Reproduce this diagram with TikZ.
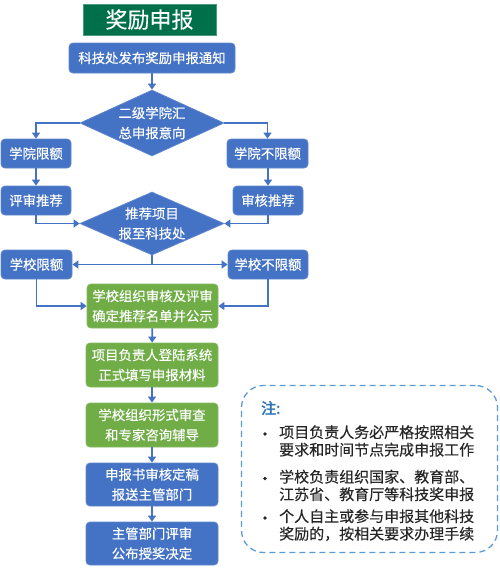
\documentclass[tikz,border=0pt]{standalone}
\usepackage{fontspec}
\setmainfont{Noto Sans CJK SC}[FakeBold=0.3]
\newfontfamily\headfont{Noto Sans CJK SC}[FakeBold=2.5]
\usetikzlibrary{shapes.geometric,arrows.meta}
\definecolor{bluebox}{HTML}{4472C4}
\definecolor{greenbox}{HTML}{70AD47}
\definecolor{titlegreen}{HTML}{00704A}
\definecolor{dashblue}{HTML}{5B9BD5}
\definecolor{notetext}{HTML}{262626}
\definecolor{notehead}{HTML}{2E75B6}
\tikzset{
  x=1pt, y=-1pt,
  boxtext/.style={font=\fontsize{13.4pt}{20pt}\selectfont, text=white, align=center, inner sep=0pt},
  bluestep/.style={boxtext, rectangle, rounded corners=4pt, fill=bluebox, draw=bluebox!85!white, line width=0.8pt},
  greenstep/.style={boxtext, rectangle, rounded corners=4pt, fill=greenbox, draw=greenbox!85!white, line width=0.8pt},
  decide/.style={boxtext, diamond, fill=bluebox, draw=bluebox!85!white, line width=0.8pt, aspect=2.2},
  flow/.style={draw=bluebox, line width=1.8pt, -{Triangle[length=6pt,width=8pt]}},
  flowplain/.style={draw=bluebox, line width=1.8pt},
  notebody/.style={font=\fontsize{15pt}{17.5pt}\selectfont, text=notetext, align=left, anchor=north west, inner sep=0pt, text width=200pt},
  bulletdot/.style={circle, fill=notetext, inner sep=0pt, minimum size=3.6pt},
}
\begin{document}
\begin{tikzpicture}
\useasboundingbox (0,0) rectangle (500,570);
% title
\node[fill=titlegreen, draw=titlegreen!70!white, line width=0.8pt, minimum width=133pt, minimum height=31pt, inner sep=0pt, text=white, font=\fontsize{22pt}{24pt}\selectfont] (title) at (149.5,19.5) {奖励申报};
% main column
\node[bluestep, minimum width=166pt, minimum height=30pt] (notice) at (152,58) {科技处发布奖励申报通知};
\node[decide, minimum width=144pt, minimum height=66pt] (d1) at (152,123) {二级学院汇\\总申报意向};
\node[bluestep, minimum width=70pt, minimum height=29pt] (xyxe) at (36,153.5) {学院限额};
\node[bluestep, minimum width=81pt, minimum height=29pt] (xybxe) at (267.5,153.5) {学院不限额};
\node[bluestep, minimum width=70pt, minimum height=29pt] (pstj) at (36,200.5) {评审推荐};
\node[bluestep, minimum width=70pt, minimum height=29pt] (shtj) at (268,200.5) {审核推荐};
\node[decide, minimum width=144pt, minimum height=63pt] (d2) at (152,223.5) {推荐项目\\报至科技处};
\node[bluestep, minimum width=71pt, minimum height=29pt] (xxxe) at (36.5,264.5) {学校限额};
\node[bluestep, minimum width=80pt, minimum height=29pt] (xxbxe) at (268,264.5) {学校不限额};
\node[greenstep, minimum width=131pt, minimum height=44pt] (g1) at (152.5,306) {学校组织审核及评审\\确定推荐名单并公示};
\node[greenstep, minimum width=132pt, minimum height=44pt] (g2) at (152,365) {项目负责人登陆系统\\正式填写申报材料};
\node[greenstep, minimum width=132pt, minimum height=44pt] (g3) at (152,425) {学校组织形式审查\\和专家咨询辅导};
\node[bluestep, minimum width=132pt, minimum height=43pt] (b4) at (152,484.5) {申报书审核定稿\\报送主管部门};
\node[bluestep, minimum width=132pt, minimum height=43pt] (b5) at (152,543.5) {主管部门评审\\公布授奖决定};
% connectors
\draw[flow] (notice) -- (d1);
\draw[flow] (d1.west) -| (xyxe.north);
\draw[flow] (d1.east) -| (xybxe.north);
\draw[flow] (xyxe) -- (pstj);
\draw[flow] (xybxe.south -| shtj.north) -- (shtj.north);
\draw[flow] (pstj.south) |- (d2.west);
\draw[flow] (shtj.south) |- (d2.east);
\coordinate (split) at (152,264.5);
\draw[flowplain] (d2.south) -- (split);
\draw[flow] (split) -- (xxxe.east);
\draw[flow] (split) -- (xxbxe.west);
\draw[flow] (xxxe.south) |- (g1.west);
\draw[flow] (xxbxe.south) |- (g1.east);
\draw[flow] (g1) -- (g2);
\draw[flow] (g2) -- (g3);
\draw[flow] (g3) -- (b4);
\draw[flow] (b4) -- (b5);
% note box
\node[draw=dashblue, dashed, dash pattern=on 6pt off 4pt, line width=1.3pt, rounded corners=22pt, minimum width=256pt, minimum height=167pt, inner sep=0pt] (note) at (369.5,469) {};
\node[font=\fontsize{15pt}{17pt}\headfont, text=notehead, anchor=west, inner sep=0pt] (notehead) at (261,408) {注:};
\node[bulletdot] (bul1) at (265,434) {};
\node[bulletdot] (bul2) at (265,478.5) {};
\node[bulletdot] (bul3) at (265,518) {};
\node[notebody] (t1) at (279,425) {项目负责人务必严格按照相关\\要求和时间节点完成申报工作};
\node[notebody] (t2) at (279,469.5) {学校负责组织国家、教育部、\\江苏省、教育厅等科技奖申报};
\node[notebody] (t3) at (279,509) {个人自主或参与申报其他科技\\奖励的，按相关要求办理手续};
\end{tikzpicture}
\end{document}
